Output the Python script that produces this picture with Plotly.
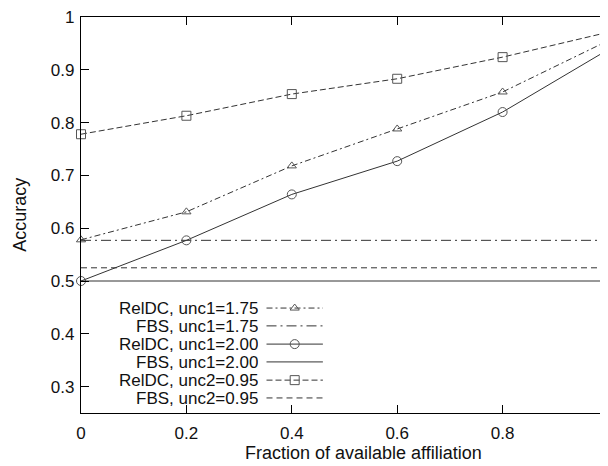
import plotly.graph_objects as go

# ---- data ----
fraction = [0, 0.2, 0.4, 0.6, 0.8, 1.0]
reldc_unc1_175 = [0.578, 0.631, 0.718, 0.788, 0.858, 0.955]
fbs_unc1_175 = [0.577] * 6
reldc_unc1_200 = [0.500, 0.577, 0.664, 0.727, 0.820, 0.938]
fbs_unc1_200 = [0.500] * 6
reldc_unc2_095 = [0.778, 0.813, 0.854, 0.883, 0.924, 0.971]
fbs_unc2_095 = [0.525] * 6

series_names = ["RelDC, unc1=1.75", "FBS, unc1=1.75", "RelDC, unc1=2.00",
                "FBS, unc1=2.00", "RelDC, unc2=0.95", "FBS, unc2=0.95"]
x_ticks = [0, 0.2, 0.4, 0.6, 0.8, 1.0]
x_tick_labels = ["0", "0.2", "0.4", "0.6", "0.8", "1"]
y_ticks = [0.3, 0.4, 0.5, 0.6, 0.7, 0.8, 0.9, 1.0]
y_tick_labels = ["0.3", "0.4", "0.5", "0.6", "0.7", "0.8", "0.9", "1"]
x_title = "Fraction of available affiliation"
y_title = "Accuracy"

# ---- styles ----
LC = "#333333"
MC = "#555555"
styles = [
    dict(dash="6px,3px,2px,3px", symbol="triangle-up-open", msize=8),
    dict(dash="10px,4px,2px,4px", symbol=None, msize=0),
    dict(dash="solid", symbol="circle-open", msize=9),
    dict(dash="solid", symbol=None, msize=0),
    dict(dash="6px,3px", symbol="square-open", msize=9),
    dict(dash="6px,4px", symbol=None, msize=0),
]
values = [reldc_unc1_175, fbs_unc1_175, reldc_unc1_200, fbs_unc1_200,
          reldc_unc2_095, fbs_unc2_095]

FONT = "Liberation Sans, Arial, Helvetica, sans-serif"

fig = go.Figure()
for name, ys, st in zip(series_names, values, styles):
    if st["symbol"]:
        fig.add_trace(go.Scatter(
            x=fraction, y=ys, name=name, mode="lines+markers",
            line=dict(color=LC, width=1, dash=st["dash"]),
            marker=dict(symbol=st["symbol"], size=st["msize"],
                        color=MC, line=dict(color=MC, width=1)),
            showlegend=False, cliponaxis=False))
    else:
        fig.add_trace(go.Scatter(
            x=fraction, y=ys, name=name, mode="lines",
            line=dict(color=LC, width=1, dash=st["dash"]),
            showlegend=False))

# ---- custom legend (text right-aligned, sample on right) ----
row_y = [0.265, 0.220, 0.174, 0.129, 0.083, 0.038]
text_x = 0.340
s0, s1 = 0.352, 0.459
for name, st, ry in zip(series_names, styles, row_y):
    fig.add_annotation(x=text_x, y=ry, xref="paper", yref="paper",
                       text=name, showarrow=False, xanchor="right",
                       yanchor="middle", height=18,
                       font=dict(size=17, color="#111", family=FONT))
    fig.add_trace(go.Scatter(
        x=[s0, s1], y=[ry, ry], xaxis="x2", yaxis="y2", mode="lines",
        line=dict(color=LC, width=1, dash=st["dash"]), showlegend=False,
        hoverinfo="skip"))
    if st["symbol"]:
        fig.add_trace(go.Scatter(
            x=[(s0 + s1) / 2], y=[ry], xaxis="x2", yaxis="y2", mode="markers",
            marker=dict(symbol=st["symbol"], size=st["msize"], color=MC,
                        line=dict(color=MC, width=1)),
            showlegend=False, hoverinfo="skip"))

# axis titles as annotations for exact placement
fig.add_annotation(x=0.537, y=-0.101, xref="paper", yref="paper",
                   text=x_title, showarrow=False, xanchor="center",
                   yanchor="middle", font=dict(size=18, color="#111", family=FONT))
fig.add_annotation(x=-0.116, y=0.5, xref="paper", yref="paper",
                   text=y_title, showarrow=False, textangle=-90,
                   xanchor="center", yanchor="middle",
                   font=dict(size=18, color="#111", family=FONT))

axis_common = dict(showgrid=False, zeroline=False, ticks="inside", ticklen=8,
                   tickcolor="#000", showline=True, linecolor="#000",
                   linewidth=1.2, mirror="ticks", automargin=False,
                   ticklabeloverflow="allow",
                   tickfont=dict(size=17, color="#111", family=FONT))

# page body has an 8px margin; compensate so the plot lands where the reference has it
fig.update_layout(
    width=608, height=466,
    margin=dict(l=73, r=8, t=9, b=61),
    paper_bgcolor="white", plot_bgcolor="white",
    font=dict(family=FONT, color="#111"),
    xaxis=dict(range=[0, 1.0], tickvals=x_ticks, ticktext=x_tick_labels,
               ticklabelstandoff=4, **axis_common),
    yaxis=dict(range=[0.25, 1.0], tickvals=y_ticks, ticktext=y_tick_labels,
               ticklabelstandoff=2, **axis_common),
    xaxis2=dict(overlaying="x", range=[0, 1], visible=False, anchor="y2"),
    yaxis2=dict(overlaying="y", range=[0, 1], visible=False, anchor="x2"),
)

fig.write_html("out.html")
